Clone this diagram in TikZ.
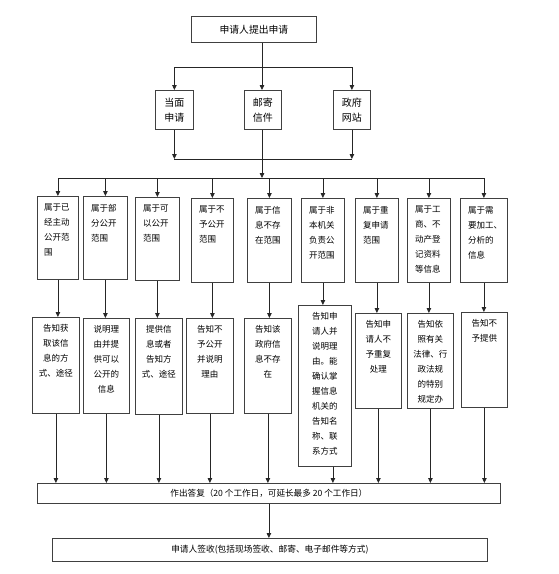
\documentclass[tikz,border=0pt]{standalone}
\usepackage{fontspec}
\newfontfamily\cjk{Noto Sans CJK SC}
\usetikzlibrary{arrows.meta}
\begin{document}
\begin{tikzpicture}[x=1pt,y=-1pt,
  box/.style={draw=black!75, line width=0.8pt, inner sep=0pt, anchor=north west},
  arr/.style={draw=black!85, line width=0.8pt, -{Triangle[length=5pt,width=4.5pt]}},
  ln/.style={draw=black!85, line width=0.8pt},
  ltxt/.style={inner sep=0pt, anchor=north west, align=left, font=\cjk\fontsize{8.5}{15}\selectfont},
  ctxt/.style={inner sep=0pt, anchor=north, align=center, font=\cjk\fontsize{8.5}{15}\selectfont},
  mtxt/.style={inner sep=0pt, align=center, font=\cjk\fontsize{10}{15}\selectfont}]
\useasboundingbox (0,0) rectangle (558,574);
\fill[white] (0,0) rectangle (558,574);

% top
\node[box, minimum width=125, minimum height=26] (top) at (191,16) {};
\node[mtxt, font=\cjk\fontsize{9.8}{12}\selectfont] (ttop) at (top.center) {申请人提出申请};

% channels
\node[box, minimum width=38, minimum height=39] (dm) at (155,90) {};
\node[mtxt] (tdm) at (dm.center) {当面\\申请};
\node[box, minimum width=37, minimum height=39] (yj) at (244,90) {};
\node[mtxt] (tyj) at (yj.center) {邮寄\\信件};
\node[box, minimum width=37, minimum height=39] (zf) at (333,90) {};
\node[mtxt] (tzf) at (zf.center) {政府\\网站};

\coordinate (j1) at (262,67);
\coordinate (j2) at (262,159);
\coordinate (j3) at (262,178);

\draw[ln] (top.south -| j1) -- (j1);
\draw[ln] (j1 -| dm) -- (j1 -| zf);
\draw[arr] (j1 -| dm) -- (dm.north);
\draw[arr] (j1) -- (yj.north -| j1);
\draw[arr] (j1 -| zf) -- (zf.north);
\draw[arr] (dm.south) -- (j2 -| dm);
\draw[arr] (zf.south) -- (j2 -| zf);
\draw[ln] (j2 -| dm) -- (j2 -| zf);
\draw[arr] (yj.south -| j1) -- (j3);

% row 1
\node[box, minimum width=41, minimum height=83] (ra) at (37,196) {};
\node[box, minimum width=44, minimum height=83] (rb) at (83,196) {};
\node[box, minimum width=44, minimum height=83] (rc) at (135,197) {};
\node[box, minimum width=42, minimum height=84] (rd) at (191,198) {};
\node[box, minimum width=44, minimum height=84] (re) at (247,198) {};
\node[box, minimum width=43, minimum height=84] (rf) at (301,198) {};
\node[box, minimum width=43, minimum height=84] (rg) at (355,198) {};
\node[box, minimum width=43, minimum height=84] (rh) at (407,198) {};
\node[box, minimum width=47, minimum height=84] (ri) at (460,198) {};

\node[ltxt] (ta) at ([shift={(7,8)}]ra.north west) {属于已\\经主动\\公开范\\围};
\node[ltxt] (tb) at ([shift={(8,8)}]rb.north west) {属于部\\分公开\\范围};
\node[ltxt] (tc) at ([shift={(8,8)}]rc.north west) {属于可\\以公开\\范围};
\node[ltxt] (td) at ([shift={(8,8)}]rd.north west) {属于不\\予公开\\范围};
\node[ltxt] (te) at ([shift={(8,8)}]re.north west) {属于信\\息不存\\在范围};
\node[ltxt] (tf) at ([shift={(8,8)}]rf.north west) {属于非\\本机关\\负责公\\开范围};
\node[ltxt] (tg) at ([shift={(8,8)}]rg.north west) {属于重\\复申请\\范围};
\node[ltxt] (th) at ([shift={(8,8)}]rh.north west) {属于工\\商、不\\动产登\\记资料\\等信息};
\node[ltxt] (ti) at ([shift={(8,8)}]ri.north west) {属于需\\要加工、\\分析的\\信息};

\draw[ln] (j3 -| ra) -- (j3 -| ri);
\foreach \n in {ra,rb,rc,rd,re,rf,rg,rh,ri}{
  \draw[arr] (j3 -| \n) -- (\n.north);
}

% row 2
\node[box, minimum width=47, minimum height=96] (sa) at (32,317) {};
\node[box, minimum width=46, minimum height=95] (sb) at (83,318) {};
\node[box, minimum width=47, minimum height=96] (sc) at (135,318) {};
\node[box, minimum width=47, minimum height=95] (sd) at (186,318) {};
\node[box, minimum width=47, minimum height=95] (se) at (244,318) {};
\node[box, minimum width=53, minimum height=161] (sf) at (298,305) {};
\node[box, minimum width=46, minimum height=95] (sg) at (355,313) {};
\node[box, minimum width=46, minimum height=95] (sh) at (407,313) {};
\node[box, minimum width=46, minimum height=95] (si) at (461,312) {};

\node[ctxt] (ua) at ([yshift=-7]sa.north) {告知获\\取该信\\息的方\\式、途径};
\node[ctxt] (ub) at ([yshift=-7]sb.north) {说明理\\由并提\\供可以\\公开的\\信息};
\node[ctxt] (uc) at ([yshift=-7]sc.north) {提供信\\息或者\\告知方\\式、途径};
\node[ctxt] (ud) at ([yshift=-7]sd.north) {告知不\\予公开\\并说明\\理由};
\node[ctxt] (ue) at ([yshift=-7]se.north) {告知该\\政府信\\息不存\\在};
\node[ctxt] (uf) at ([yshift=-7]sf.north) {告知申\\请人并\\说明理\\由。能\\确认掌\\握信息\\机关的\\告知名\\称、联\\系方式};
\node[ctxt] (ug) at ([yshift=-7]sg.north) {告知申\\请人不\\予重复\\处理};
\node[ctxt] (uh) at ([yshift=-7]sh.north) {告知依\\照有关\\法律、行\\政法规\\的特别\\规定办};
\node[ctxt] (ui) at ([yshift=-7]si.north) {告知不\\予提供};

\draw[arr] (ra.south) -- (ra.south |- sa.north);
\draw[arr] (rb.south) -- (rb.south |- sb.north);
\draw[arr] (rc.south) -- (rc.south |- sc.north);
\draw[arr] (rd.south) -- (rd.south |- sd.north);
\draw[arr] (re.south) -- (re.south |- se.north);
\draw[arr] (rf.south) -- (rf.south |- sf.north);
\draw[arr] (rg.south) -- (rg.south |- sg.north);
\draw[arr] (rh.south) -- (rh.south |- sh.north);
\draw[arr] (ri.south) -- (ri.south |- si.north);

% answer
\node[box, minimum width=463, minimum height=20] (ans) at (37,483) {};
\node[mtxt, font=\cjk\fontsize{8.6}{10}\selectfont] (tans) at (ans.center) {作出答复（20 个工作日，可延长最多 20 个工作日）};

\foreach \n in {sa,sb,sc,sd,se,sg,sh,si}{
  \draw[arr] (\n.south) -- (\n.south |- ans.north);
}
\draw[arr] ([xshift=8]sf.south) -- ([xshift=8]sf.south |- ans.north);

% sign
\node[box, minimum width=435, minimum height=23] (sign) at (52,538) {};
\node[mtxt, font=\cjk\fontsize{8.7}{10}\selectfont] (tsign) at (sign.center) {申请人签收(包括现场签收、邮寄、电子邮件等方式)};
\draw[arr] (ans.south) -- (ans.south |- sign.north);
\end{tikzpicture}
\end{document}
